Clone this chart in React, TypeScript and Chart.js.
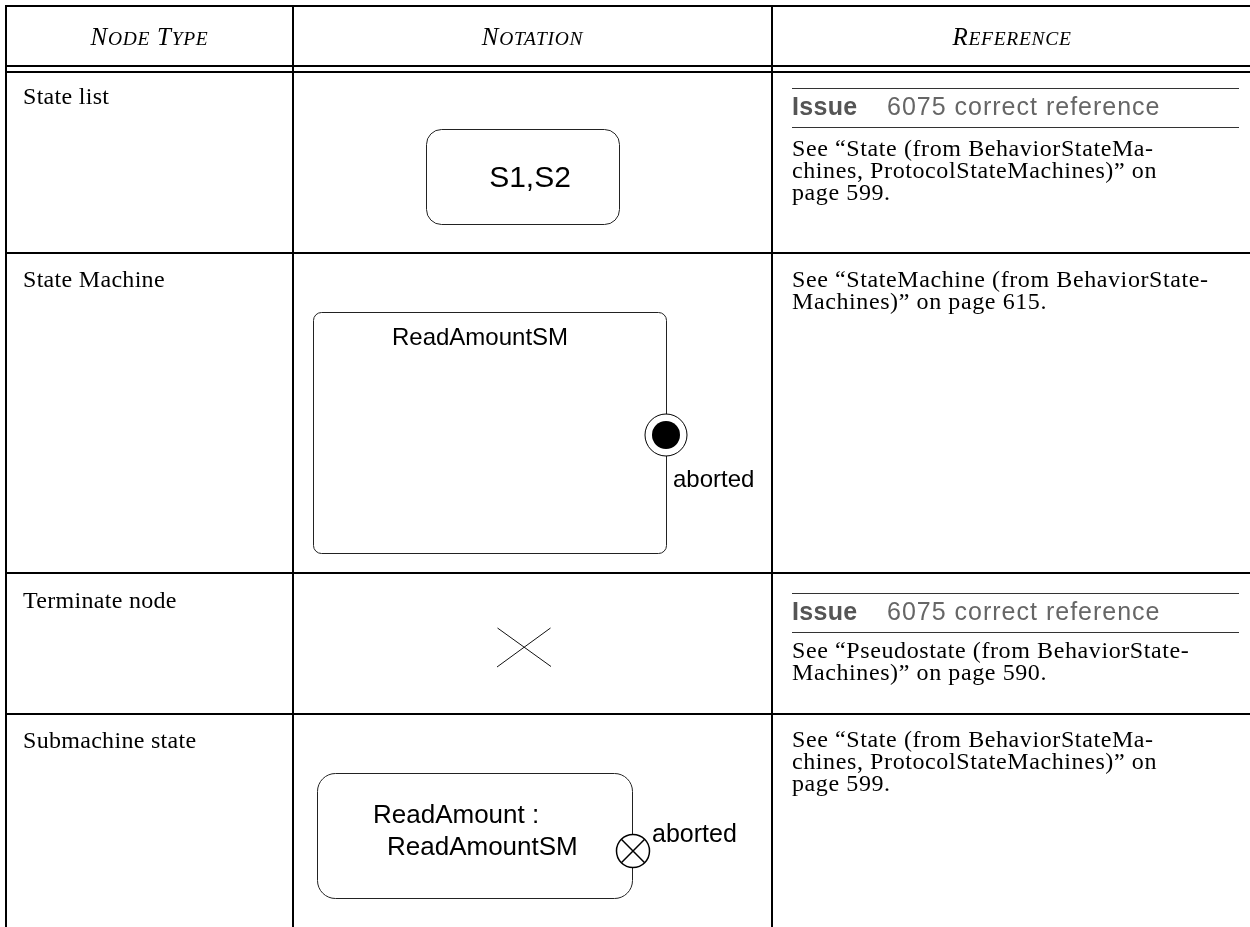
import React, { useEffect, useRef } from "react";
import { Chart, registerables } from "chart.js";

Chart.register(...registerables);

// ---------------- content (data) ----------------
const headerLabels = ["Node Type", "Notation", "Reference"];
const nodeTypes = ["State list", "State Machine", "Terminate node", "Submachine state"];
const issueFlags = [true, false, true, false];
const issueWord = "Issue";
const issueNumber = "6075";
const issueText = "correct reference";
const referenceLines = [
  ["See \u201cState (from BehaviorStateMa-", "chines, ProtocolStateMachines)\u201d on", "page 599."],
  ["See \u201cStateMachine (from BehaviorState-", "Machines)\u201d on page 615."],
  ["See \u201cPseudostate (from BehaviorState-", "Machines)\u201d on page 590."],
  ["See \u201cState (from BehaviorStateMa-", "chines, ProtocolStateMachines)\u201d on", "page 599."],
];
const stateListLabel = "S1,S2";
const stateMachineName = "ReadAmountSM";
const exitPointLabel = "aborted";
const submachineLines = ["ReadAmount :", "ReadAmountSM"];

// ---------------- layout (positions / sizes / styles) ----------------
const W = 1250;
const H = 927;
const COL_X = [6, 293, 772];
const TOP_Y = 6;
const HEADER_RULES = [66, 72];
const ROW_RULES = [253, 573, 714];
const HEADER_BASE = 45;
const LABEL_X = 23;
const LABEL_BASE = [104, 287, 608, 748];
const REF_X = 792;
const REF_BASE = [
  [156, 178, 200],
  [287, 309],
  [658, 680],
  [747, 769, 791],
];
const ISSUE_POS = [
  { top: 88, base: 115, bottom: 127 },
  null,
  { top: 593, base: 620, bottom: 632 },
  null,
];
const ISSUE_RULE_END = 1239;
const ISSUE_NUM_X = 887;

const SERIF = '"Liberation Serif", "Times New Roman", serif';
const SANS = '"Liberation Sans", Arial, sans-serif';

// diagram geometry
const STATE_BOX = { x: 426, y: 129, w: 193, h: 95, r: 15 };
const STATE_TEXT = { x: 530, y: 187, size: 30 };
const SM_BOX = { x: 313, y: 312, w: 353, h: 241, r: 8 };
const SM_TITLE = { x: 480, y: 345, size: 24 };
const EXIT = { x: 666, y: 435, outer: 21, inner: 14 };
const EXIT_LABEL = { x: 673, y: 487, size: 24 };
const TERM = { x1: 497.5, y1: 628, x2: 551, y2: 666.5, x3: 497, y3: 667, x4: 550.5, y4: 628 };
const SUB_BOX = { x: 317, y: 773, w: 315, h: 125, r: 18 };
const SUB_TEXT = [
  { x: 373, y: 823, size: 26 },
  { x: 387, y: 855, size: 26 },
];
const SUB_EXIT = { x: 633, y: 851, r: 16.5 };
const SUB_EXIT_LABEL = { x: 652, y: 842, size: 25 };

function seg(x1: number, y1: number, x2: number, y2: number, w: number, color: string) {
  return {
    data: [
      { x: x1, y: y1 },
      { x: x2, y: y2 },
    ],
    showLine: true,
    borderColor: color,
    borderWidth: w,
    pointRadius: 0,
    pointHoverRadius: 0,
    fill: false,
    tension: 0,
    borderCapStyle: "butt",
    clip: false,
  };
}

function drawSmallCaps(ctx: CanvasRenderingContext2D, text: string, cx: number, base: number) {
  const big = 25;
  const small = 19.5;
  const parts: { t: string; s: number; w?: number }[] = [];
  text.split(" ").forEach((word, i) => {
    if (i > 0) parts.push({ t: " ", s: big });
    parts.push({ t: word[0].toUpperCase(), s: big });
    if (word.length > 1) parts.push({ t: word.slice(1).toUpperCase(), s: small });
  });
  (ctx as any).letterSpacing = "0.7px";
  let total = 0;
  parts.forEach((p) => {
    ctx.font = `italic ${p.s}px ${SERIF}`;
    p.w = ctx.measureText(p.t).width;
    total += p.w;
  });
  let x = cx - total / 2;
  ctx.textAlign = "left";
  parts.forEach((p) => {
    ctx.font = `italic ${p.s}px ${SERIF}`;
    ctx.fillText(p.t, x, base);
    x += p.w as number;
  });
  (ctx as any).letterSpacing = "0px";
}

const tablePlugin = {
  id: "tableDrawing",
  beforeDatasetsDraw(chart: any) {
    const ctx: CanvasRenderingContext2D = chart.ctx;
    const sx = (v: number) => chart.scales.x.getPixelForValue(v);
    const sy = (v: number) => chart.scales.y.getPixelForValue(v);
    ctx.save();
    ctx.textBaseline = "alphabetic";
    ctx.fillStyle = "#000";

    // header
    const centers = [(COL_X[0] + COL_X[1]) / 2, (COL_X[1] + COL_X[2]) / 2, (COL_X[2] + W) / 2 + 1];
    headerLabels.forEach((h, i) => drawSmallCaps(ctx, h, sx(centers[i]), sy(HEADER_BASE)));

    // node type labels
    ctx.font = `24px ${SERIF}`;
    (ctx as any).letterSpacing = "0.3px";
    nodeTypes.forEach((t, i) => ctx.fillText(t, sx(LABEL_X), sy(LABEL_BASE[i])));

    // references
    referenceLines.forEach((lines, i) => {
      const iss = ISSUE_POS[i];
      if (issueFlags[i] && iss) {
        ctx.strokeStyle = "#333";
        ctx.lineWidth = 1;
        [iss.top, iss.bottom].forEach((yy) => {
          ctx.beginPath();
          ctx.moveTo(sx(REF_X), sy(yy) + 0.5);
          ctx.lineTo(sx(ISSUE_RULE_END), sy(yy) + 0.5);
          ctx.stroke();
        });
        ctx.fillStyle = "#555";
        ctx.font = `bold 25px ${SANS}`;
        (ctx as any).letterSpacing = "0.3px";
        ctx.fillText(issueWord, sx(REF_X), sy(iss.base));
        ctx.fillStyle = "#666";
        ctx.font = `25px ${SANS}`;
        (ctx as any).letterSpacing = "1px";
        ctx.fillText(`${issueNumber} ${issueText}`, sx(ISSUE_NUM_X), sy(iss.base));
      }
      ctx.fillStyle = "#000";
      ctx.font = `24px ${SERIF}`;
      (ctx as any).letterSpacing = "0.6px";
      lines.forEach((ln, j) => ctx.fillText(ln, sx(REF_X), sy(REF_BASE[i][j])));
    });
    (ctx as any).letterSpacing = "0px";

    // diagrams
    ctx.strokeStyle = "#222";
    ctx.lineWidth = 1;
    const rrect = (b: { x: number; y: number; w: number; h: number; r: number }) => {
      const x0 = sx(b.x) + 0.5;
      const y0 = sy(b.y) + 0.5;
      const x1 = sx(b.x + b.w) + 0.5;
      const y1 = sy(b.y + b.h) + 0.5;
      ctx.beginPath();
      (ctx as any).roundRect(x0, y0, x1 - x0, y1 - y0, b.r);
      ctx.stroke();
    };
    rrect(STATE_BOX);
    rrect(SM_BOX);
    rrect(SUB_BOX);

    ctx.fillStyle = "#000";
    ctx.textAlign = "center";
    ctx.font = `${STATE_TEXT.size}px ${SANS}`;
    ctx.fillText(stateListLabel, sx(STATE_TEXT.x), sy(STATE_TEXT.y));
    ctx.font = `${SM_TITLE.size}px ${SANS}`;
    ctx.fillText(stateMachineName, sx(SM_TITLE.x), sy(SM_TITLE.y));
    ctx.textAlign = "left";
    ctx.font = `${EXIT_LABEL.size}px ${SANS}`;
    ctx.fillText(exitPointLabel, sx(EXIT_LABEL.x), sy(EXIT_LABEL.y));
    submachineLines.forEach((ln, i) => {
      ctx.font = `${SUB_TEXT[i].size}px ${SANS}`;
      ctx.fillText(ln, sx(SUB_TEXT[i].x), sy(SUB_TEXT[i].y));
    });
    ctx.font = `${SUB_EXIT_LABEL.size}px ${SANS}`;
    ctx.fillText(exitPointLabel, sx(SUB_EXIT_LABEL.x), sy(SUB_EXIT_LABEL.y));
    ctx.restore();
  },
};

export default function App() {
  const ref = useRef<HTMLCanvasElement | null>(null);
  useEffect(() => {
    if (!ref.current) return;
    const datasets: any[] = [
      // exit point: filled dot on top of white ring
      {
        data: [{ x: EXIT.x, y: EXIT.y }],
        pointRadius: EXIT.inner,
        pointBackgroundColor: "#000",
        pointBorderColor: "#000",
        pointBorderWidth: 0,
        pointStyle: "circle",
      },
      {
        data: [{ x: EXIT.x, y: EXIT.y }],
        pointRadius: EXIT.outer,
        pointBackgroundColor: "#fff",
        pointBorderColor: "#000",
        pointBorderWidth: 1,
        pointStyle: "circle",
      },
      // submachine exit point (circle with cross)
      {
        data: [{ x: SUB_EXIT.x, y: SUB_EXIT.y }],
        pointRadius: SUB_EXIT.r,
        pointBorderColor: "#000",
        pointBorderWidth: 1.5,
        pointStyle: "crossRot",
      },
      {
        data: [{ x: SUB_EXIT.x, y: SUB_EXIT.y }],
        pointRadius: SUB_EXIT.r,
        pointBackgroundColor: "#fff",
        pointBorderColor: "#000",
        pointBorderWidth: 1.5,
        pointStyle: "circle",
      },
      // terminate node
      seg(TERM.x1, TERM.y1, TERM.x2, TERM.y2, 1, "#111"),
      seg(TERM.x3, TERM.y3, TERM.x4, TERM.y4, 1, "#111"),
      // table rules
      seg(COL_X[0] - 1, TOP_Y, W, TOP_Y, 2, "#000"),
      ...HEADER_RULES.map((y) => seg(COL_X[0] - 1, y, W, y, 2, "#000")),
      ...ROW_RULES.map((y) => seg(COL_X[0] - 1, y, W, y, 2, "#000")),
      ...COL_X.map((x) => seg(x, TOP_Y - 1, x, H, 2, "#000")),
    ];
    const chart = new Chart(ref.current, {
      type: "scatter",
      data: { datasets },
      options: {
        animation: false,
        responsive: false,
        devicePixelRatio: 1,
        events: [],
        layout: { padding: 0, autoPadding: false },
        plugins: { legend: { display: false }, tooltip: { enabled: false } },
        scales: {
          x: { type: "linear", min: 0, max: W, display: false },
          y: { type: "linear", min: 0, max: H, reverse: true, display: false },
        },
      },
      plugins: [tablePlugin],
    } as any);
    return () => chart.destroy();
  }, []);
  return (
    <div style={{ position: "absolute", left: 0, top: 0, width: W, height: H, background: "#fff" }}>
      <canvas ref={ref} width={W} height={H} style={{ display: "block" }} />
    </div>
  );
}
